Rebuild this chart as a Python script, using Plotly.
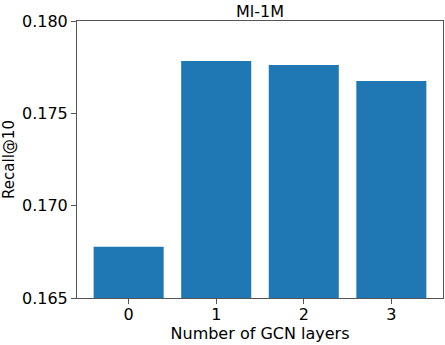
import plotly.graph_objects as go

layers = [0, 1, 2, 3]
recall = [0.16778, 0.17783, 0.17762, 0.17675]
y_ticks = [0.165, 0.170, 0.175, 0.180]
y_tick_text = ["0.165", "0.170", "0.175", "0.180"]

FONT = "DejaVu Sans"

fig = go.Figure()
fig.add_trace(go.Bar(x=layers, y=recall, width=0.8,
                     marker=dict(color="#1f77b4", line=dict(width=0))))

fig.update_layout(
    width=445, height=345,
    margin=dict(l=77, r=2, t=21, b=47),
    plot_bgcolor="white", paper_bgcolor="white",
    font=dict(family=FONT, size=16, color="black"),
    showlegend=False,
    title=dict(text="Ml-1M", x=0.5, xanchor="center", xref="paper",
               y=1, yref="paper", yanchor="bottom", pad=dict(b=4),
               automargin=False,
               font=dict(family=FONT, size=16, color="black")),
)
fig.update_xaxes(
    range=[-0.59, 3.59], tickvals=layers, ticks="outside", ticklen=5,
    tickcolor="#555", showline=True, linecolor="#555", linewidth=1,
    mirror=True, showgrid=False, zeroline=False, automargin=False,
    tickfont=dict(size=16), ticklabelstandoff=-3,
    title=dict(text="Number of GCN layers", standoff=0, font=dict(size=16)),
)
fig.update_yaxes(
    range=[0.165, 0.180], tickvals=y_ticks, ticktext=y_tick_text,
    ticks="outside", ticklen=5, tickcolor="#555",
    showline=True, linecolor="#555", linewidth=1, mirror=True,
    showgrid=False, zeroline=False, automargin=False,
    tickfont=dict(size=16),
    title=dict(text="Recall@10", standoff=4, font=dict(size=15)),
)

# the page body has a default 8px margin, drop it so the figure sits at 0,0
fig.write_html("out.html", config={"displayModeBar": False},
               post_script="document.body.style.margin='0';")
